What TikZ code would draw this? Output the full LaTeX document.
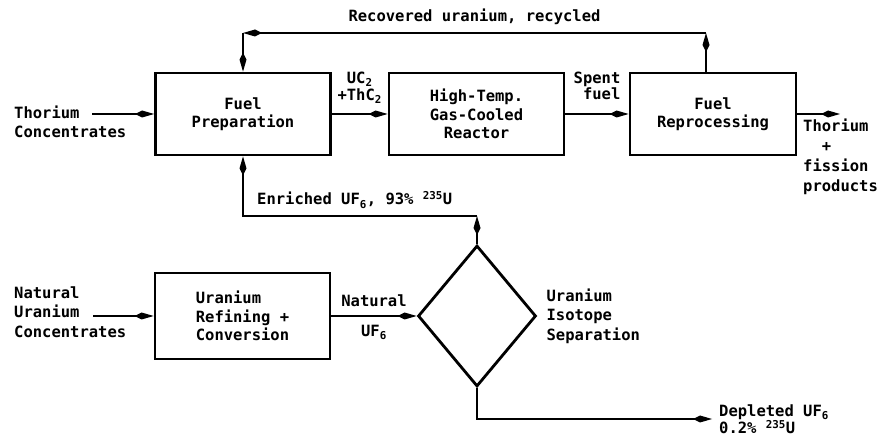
\documentclass[tikz,border=0pt]{standalone}
\usepackage{fontspec}
\setmainfont{DejaVu Sans Mono}
\usetikzlibrary{arrows.meta,positioning,calc,shapes.geometric}

\begin{document}
\begin{tikzpicture}[x=1pt,y=1pt,
    font=\bfseries\fontsize{15.5}{18.5}\selectfont,
    unitbox/.style={draw,line width=2.8pt,minimum width=175pt,minimum height=82pt,inner sep=0pt,align=center},
    flow/.style={line width=2.8pt,-{Kite[length=19pt,width=7pt,inset=7pt]}},
    tag/.style={inner sep=1pt}]

  \useasboundingbox (0,0) rectangle (880,436);

  % =====================================================================
  % TOP ROW: thorium fuel cycle
  % =====================================================================
  \def\yTop{322}
  \def\yRec{403}

  \node[unitbox] (prep) at (243,\yTop) {Fuel\\Preparation};
  \node[unitbox] (htgr) at (476.5,\yTop) {High-Temp.\\Gas-Cooled\\Reactor};
  \node[unitbox,minimum width=166pt] (repro) at (713,\yTop) {Fuel\\Reprocessing};

  % Thorium feed
  \node[tag,anchor=west,align=left,inner sep=0pt] (thfeed) at (14,314) {Thorium\\Concentrates};
  \coordinate (thIn) at (92,\yTop);
  \draw[flow] (thIn) -- (prep.west);

  % Fuel to reactor, spent fuel to reprocessing
  \draw[flow] (prep.east) -- (htgr.west)
        node[tag,midway,above=8pt,align=center,font=\bfseries\fontsize{15.5}{17}\selectfont] (fuellbl) {UC\textsubscript{2}\\+ThC\textsubscript{2}};
  \draw[flow] (htgr.east) -- (repro.west)
        node[tag,midway,above=12pt,align=right,font=\bfseries\fontsize{15.5}{15}\selectfont] (spentlbl) {Spent\\fuel};

  % Products out
  \coordinate (thOut) at (840,\yTop);
  \draw[flow] (repro.east) -- (thOut);
  \node[anchor=north west,align=left,inner sep=0pt,font=\bfseries\fontsize{15.5}{20}\selectfont] (prodlbl) at (803,317)
        {Thorium\\\hspace*{1.2em}+\\fission\\products};

  % Recycle loop
  \coordinate (recR) at (706,\yRec);
  \draw[flow] (recR |- repro.north) -- (recR);
  \draw[flow] (recR) -- (prep.north |- recR)
        node[tag,midway,above=6pt] (reclbl) {Recovered uranium, recycled};
  \draw[flow] (prep.north |- recR) -- (prep.north);

  % =====================================================================
  % BOTTOM ROW: uranium enrichment
  % =====================================================================
  \def\yBot{120}

  \node[unitbox,minimum height=86pt,align=left] (refine) at (242.5,\yBot) {Uranium\\Refining +\\Conversion};
  \node[draw,diamond,line width=2.8pt,minimum width=118pt,minimum height=141pt,inner sep=0pt] (sep) at (477,\yBot) {};
  \node[tag,right=8pt of sep,align=left,font=\bfseries\fontsize{15.5}{19.5}\selectfont] (seplbl) {Uranium\\Isotope\\Separation};

  % Natural uranium feed
  \node[anchor=west,align=left,inner sep=0pt,font=\bfseries\fontsize{15.5}{19.5}\selectfont] (ufeed) at (14,124) {Natural\\Uranium\\Concentrates};
  \coordinate (natIn) at (93,\yBot);
  \draw[flow] (natIn) -- (refine.west);

  % Natural UF6 to separation
  \draw[flow] (refine.east) -- (sep.west)
        node[tag,midway,above=7pt] (natlbl) {Natural}
        node[tag,midway,below=7pt] (uflbl) {UF\textsubscript{6}};

  % Enriched product back to fuel preparation
  \coordinate (enrR) at (477,220);
  \draw[flow] (sep.north) -- (enrR);
  \draw[flow] (enrR) -- (prep.south |- enrR) -- (prep.south);
  \node[tag,anchor=base west] (enrlbl) at (256,231) {Enriched UF\textsubscript{6}, 93\% \textsuperscript{235}U};

  % Depleted tails
  \coordinate (depOut) at (712,17);
  \draw[flow] (sep.south) |- (depOut);
  \node[tag,right=6pt of depOut,align=left,font=\bfseries\fontsize{15.5}{16}\selectfont] (deplbl)
        {Depleted UF\textsubscript{6}\\0.2\% \textsuperscript{235}U};

\end{tikzpicture}
\end{document}
